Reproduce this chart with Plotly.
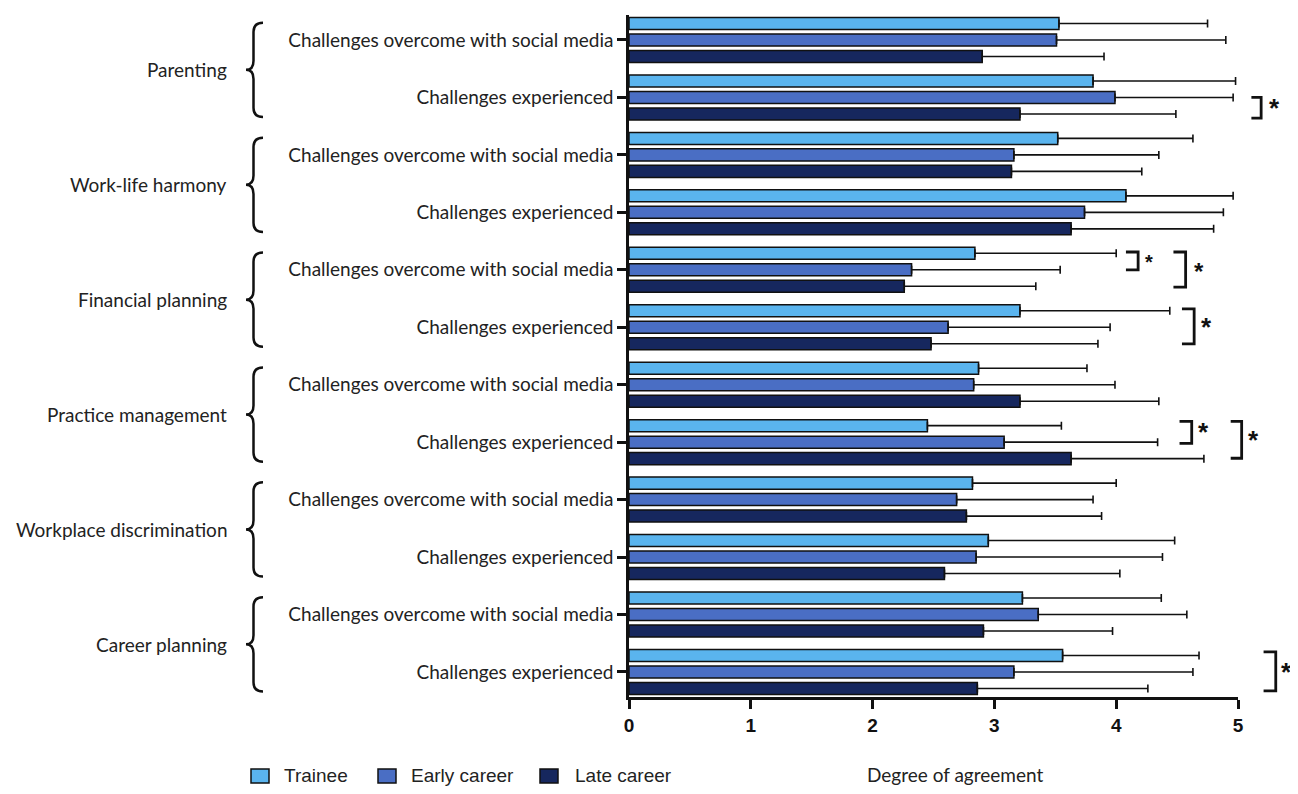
import plotly.graph_objects as go

# ---------------- data ----------------
groups = ["Parenting", "Work-life harmony", "Financial planning",
          "Practice management", "Workplace discrimination", "Career planning"]
sub_labels = ["Challenges overcome with social media", "Challenges experienced"] * 6

trainee = [3.53, 3.81, 3.52, 4.08, 2.84, 3.21, 2.87, 2.45, 2.82, 2.95, 3.23, 3.56]
trainee_hi = [4.75, 4.98, 4.63, 4.96, 4.00, 4.44, 3.76, 3.55, 4.00, 4.48, 4.37, 4.68]
early = [3.51, 3.99, 3.16, 3.74, 2.32, 2.62, 2.83, 3.08, 2.69, 2.85, 3.36, 3.16]
early_hi = [4.90, 4.96, 4.35, 4.88, 3.54, 3.95, 3.99, 4.34, 3.81, 4.38, 4.58, 4.63]
late = [2.90, 3.21, 3.14, 3.63, 2.26, 2.48, 3.21, 3.63, 2.77, 2.59, 2.91, 2.86]
late_hi = [3.90, 4.49, 4.21, 4.80, 3.34, 3.85, 4.35, 4.72, 3.88, 4.03, 3.97, 4.26]

series_names = ["Trainee", "Early career", "Late career"]
colors = ["#5AB4EE", "#4A6EC4", "#16275E"]

# significance brackets: (x_arm, x_vert, y_top, y_bot, star_x, star_y, star_size)
brackets = [
    (5.11, 5.19, 1.00, 1.36, 5.30, 1.19, 26),
    (4.08, 4.18, 3.69, 4.00, 4.27, 3.86, 20),
    (4.47, 4.57, 3.69, 4.30, 4.68, 4.03, 24),
    (4.54, 4.64, 4.68, 5.29, 4.74, 4.99, 26),
    (4.52, 4.62, 6.64, 7.02, 4.72, 6.82, 26),
    (4.94, 5.03, 6.64, 7.28, 5.13, 6.96, 26),
    (5.21, 5.31, 10.65, 11.33, 5.40, 11.00, 26),
]

# ---------------- figure geometry (reference pixel frame) ----------------
PX0, PW = 629.0, 609.0      # plot area left / width
PY0, PH = 15.0, 682.0       # plot area top / height
Y_TOP, Y_BOT = -0.435, 11.436
ypos = list(range(len(sub_labels)))


def fx(px):
    return (px - PX0) / PW


def fy(py):
    return (PY0 + PH - py) / PH


def px_paper(xd):
    return xd / 5.0


def py_paper(yi):
    return (Y_BOT - yi) / (Y_BOT - Y_TOP)


fig = go.Figure()
for name, vals, hi, col in zip(series_names, [trainee, early, late],
                               [trainee_hi, early_hi, late_hi], colors):
    fig.add_trace(go.Bar(
        y=ypos, x=vals, orientation="h", name=name,
        marker=dict(color=col, line=dict(color="#111111", width=1.5)),
        error_x=dict(type="data", symmetric=False,
                     array=[h - v for h, v in zip(hi, vals)],
                     arrayminus=[0] * len(vals),
                     color="#111111", thickness=1.6, width=4),
        showlegend=False,
    ))

shapes = []
annotations = []
for xa, xv, yt, yb, sx, sy, ss in brackets:
    x0, x1 = px_paper(xa), px_paper(xv)
    y0, y1 = py_paper(yt), py_paper(yb)
    shapes.append(dict(type="path", xref="paper", yref="paper",
                       path=f"M {x0},{y0} L {x1},{y0} L {x1},{y1} L {x0},{y1}",
                       line=dict(color="#111111", width=2.8)))
    annotations.append(dict(x=px_paper(sx), y=py_paper(sy), xref="paper", yref="paper",
                            text="*", showarrow=False,
                            font=dict(size=ss, color="#111111", family="Liberation Sans",
                                      weight="bold"),
                            xanchor="center", yanchor="middle"))

x_tip, x_str, x_end = fx(246), fx(253.5), fx(263)
r = 0.16
for g, name in enumerate(groups):
    top, bot, mid = 2 * g - 0.30, 2 * g + 1.34, 2 * g + 0.52
    P = py_paper
    path = (f"M {x_end},{P(top)} Q {x_str},{P(top)} {x_str},{P(top + r)} "
            f"L {x_str},{P(mid - r)} Q {x_str},{P(mid)} {x_tip},{P(mid)} "
            f"Q {x_str},{P(mid)} {x_str},{P(mid + r)} "
            f"L {x_str},{P(bot - r)} Q {x_str},{P(bot)} {x_end},{P(bot)}")
    shapes.append(dict(type="path", xref="paper", yref="paper", path=path,
                       line=dict(color="#111111", width=2.5)))
    annotations.append(dict(x=fx(229), y=P(mid), xref="paper", yref="paper",
                            text=name, showarrow=False, xanchor="right", yanchor="middle",
                            font=dict(size=19, family="Lato", color="#222222")))

annotations.append(dict(x=fx(955), y=fy(775), xref="paper", yref="paper",
                        text="Degree of agreement", showarrow=False,
                        xanchor="center", yanchor="middle",
                        font=dict(size=19, family="Lato", color="#222222")))

# legend (drawn as shapes + text)
leg_sq = [251, 378, 540]
leg_tx = [282, 409, 573]
leg_y = 776
for name, col, sq, tx in zip(series_names, colors, leg_sq, leg_tx):
    shapes.append(dict(type="rect", xref="paper", yref="paper",
                       x0=fx(sq), x1=fx(sq + 18), y0=fy(leg_y - 7), y1=fy(leg_y + 7),
                       fillcolor=col, line=dict(color="#111111", width=1.5)))
    annotations.append(dict(x=fx(tx), y=fy(leg_y), xref="paper", yref="paper",
                            text=name, showarrow=False, xanchor="left", yanchor="middle",
                            font=dict(size=19, family="Liberation Sans", color="#222222")))

fig.update_layout(
    width=1282, height=778,
    margin=dict(l=621, r=52, t=7, b=89),
    paper_bgcolor="white", plot_bgcolor="white",
    barmode="group", bargap=0.139, bargroupgap=0.27,
    showlegend=False,
    xaxis=dict(range=[0, 5], tickvals=[0, 1, 2, 3, 4, 5], showgrid=False,
               zeroline=False, showline=True, linecolor="#111111", linewidth=2.5,
               ticks="outside", ticklen=9, tickwidth=2.5, tickcolor="#111111",
               tickfont=dict(size=19, family="Liberation Sans Narrow, Liberation Sans",
                             color="#111111", weight="bold")),
    yaxis=dict(range=[Y_BOT, Y_TOP], tickvals=ypos, ticktext=sub_labels,
               showgrid=False, zeroline=False, showline=True, linecolor="#111111",
               linewidth=2.5, ticks="outside", ticklen=9, tickwidth=2.5,
               tickcolor="#111111",
               tickfont=dict(size=19, family="Lato", color="#222222")),
    shapes=shapes, annotations=annotations,
)

fig.write_html("out.html")
